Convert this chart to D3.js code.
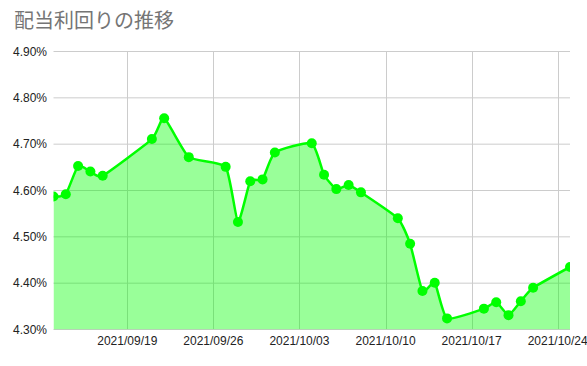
<!DOCTYPE html>
<html>
<head>
<meta charset="utf-8">
<script src="https://cdn.jsdelivr.net/npm/d3@7"></script>
<style>
  body { margin: 0; background: #fff; }
  svg { display: block; }
</style>
</head>
<body>
<script>
// trading days and dividend yield (%)
var dates = ["2021-09-13","2021-09-14","2021-09-15","2021-09-16","2021-09-17",
  "2021-09-21","2021-09-22","2021-09-24","2021-09-27","2021-09-28","2021-09-29",
  "2021-09-30","2021-10-01","2021-10-04","2021-10-05","2021-10-06","2021-10-07",
  "2021-10-08","2021-10-11","2021-10-12","2021-10-13","2021-10-14","2021-10-15",
  "2021-10-18","2021-10-19","2021-10-20","2021-10-21","2021-10-22","2021-10-25"];
var yields = [4.587, 4.592, 4.653, 4.641, 4.632,
  4.711, 4.756, 4.672, 4.651, 4.532, 4.620,
  4.624, 4.682, 4.702, 4.634, 4.603, 4.612,
  4.596, 4.540, 4.485, 4.383, 4.401, 4.324,
  4.345, 4.359, 4.331, 4.361, 4.390, 4.435];
var yTicks = [4.3, 4.4, 4.5, 4.6, 4.7, 4.8, 4.9];
var xTicks = ["2021-09-19","2021-09-26","2021-10-03","2021-10-10","2021-10-17","2021-10-24"];
var title = "配当利回りの推移";

var width = 587, height = 366;
var plotLeft = 53.5, plotRight = 570, plotTop = 51.5, plotBottom = 329.5;

var parse = d3.timeParse("%Y-%m-%d");
var fmt = d3.timeFormat("%Y/%m/%d");
var data = dates.map(function(d, i) { return {date: parse(d), value: yields[i]}; });

var x = d3.scaleTime()
    .domain([parse("2021-09-13"), parse("2021-10-25")])
    .range([plotLeft, plotRight]);
var y = d3.scaleLinear()
    .domain([4.3, 4.9])
    .range([plotBottom, plotTop]);

var svg = d3.select("body").append("svg")
    .attr("width", width)
    .attr("height", height);

svg.append("text")
    .attr("x", 14)
    .attr("y", 28)
    .attr("fill", "#757575")
    .style("font", "20px 'Noto Sans CJK JP', sans-serif")
    .text(title);

svg.append("clipPath").attr("id", "plot")
  .append("rect")
    .attr("x", plotLeft).attr("y", plotTop - 6)
    .attr("width", plotRight - plotLeft).attr("height", plotBottom - plotTop + 6);

// grid
svg.append("g").selectAll("line")
  .data(yTicks)
  .enter().append("line")
    .attr("x1", plotLeft).attr("x2", plotRight)
    .attr("y1", function(d) { return y(d); })
    .attr("y2", function(d) { return y(d); })
    .attr("stroke", "#cccccc");

svg.append("g").selectAll("line")
  .data(xTicks.map(parse))
  .enter().append("line")
    .attr("x1", function(d) { return Math.round(x(d)) + 0.5; })
    .attr("x2", function(d) { return Math.round(x(d)) + 0.5; })
    .attr("y1", plotTop).attr("y2", plotBottom)
    .attr("stroke", "#cccccc");

var curve = d3.curveCardinal.tension(0.5);

var area = d3.area()
    .x(function(d) { return x(d.date); })
    .y0(y(4.3))
    .y1(function(d) { return y(d.value); })
    .curve(curve);

var line = d3.line()
    .x(function(d) { return x(d.date); })
    .y(function(d) { return y(d.value); })
    .curve(curve);

var plot = svg.append("g").attr("clip-path", "url(#plot)");

plot.append("path")
    .datum(data)
    .attr("d", area)
    .attr("fill", "#00ff00")
    .attr("fill-opacity", 0.4);

plot.append("path")
    .datum(data)
    .attr("d", line)
    .attr("fill", "none")
    .attr("stroke", "#00ff00")
    .attr("stroke-width", 2.5)
    .attr("stroke-linejoin", "round");

plot.selectAll("circle")
  .data(data)
  .enter().append("circle")
    .attr("cx", function(d) { return x(d.date); })
    .attr("cy", function(d) { return y(d.value); })
    .attr("r", 5)
    .attr("fill", "#00ff00");

// labels
svg.append("g").selectAll("text")
  .data(yTicks)
  .enter().append("text")
    .attr("x", 47)
    .attr("y", function(d) { return y(d) + 4; })
    .attr("text-anchor", "end")
    .attr("fill", "#222222")
    .style("font", "12px 'Liberation Sans', Arial, sans-serif")
    .text(function(d) { return d.toFixed(2) + "%"; });

svg.append("g").selectAll("text")
  .data(xTicks.map(parse))
  .enter().append("text")
    .attr("x", function(d) { return x(d); })
    .attr("y", 345)
    .attr("text-anchor", "middle")
    .attr("fill", "#222222")
    .style("font", "12px 'Liberation Sans', Arial, sans-serif")
    .text(function(d) { return fmt(d); });
</script>
</body>
</html>
